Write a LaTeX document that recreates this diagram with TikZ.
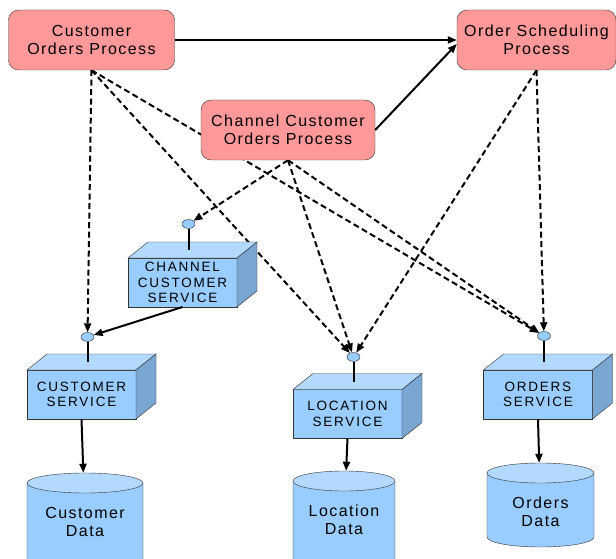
\documentclass[tikz,border=0pt]{standalone}
\usepackage{fontspec}
\setmainfont{Liberation Sans}
\newfontfamily\procfont[LetterSpace=9]{Liberation Sans}
\newfontfamily\svcfont[LetterSpace=13]{Liberation Sans}
\usetikzlibrary{arrows.meta,shapes.geometric,backgrounds}

\definecolor{procpink}{HTML}{FF9999}
\definecolor{svcfront}{HTML}{99CCFF}
\definecolor{svctop}{HTML}{B3D9FF}
\definecolor{svcside}{HTML}{7AA6D2}
\definecolor{edgegray}{HTML}{333333}

\tikzset{
  process/.style={draw=edgegray, fill=procpink, rounded corners=10pt, minimum height=60pt,
    align=center, inner sep=0pt, font=\procfont\fontsize{16}{18.5}\selectfont},
  service/.style={draw=edgegray, fill=svcfront, minimum width=109pt, minimum height=49pt,
    outer sep=0pt, align=center, inner sep=0pt, font=\svcfont\fontsize{13.5}{15.5}\selectfont},
  iface/.style={ellipse, draw=edgegray, fill=svcfront, minimum width=13pt, minimum height=9pt, inner sep=0pt},
  store/.style={minimum height=98pt, align=center, inner sep=0pt, font=\procfont\fontsize{16}{18.5}\selectfont},
  uses/.style={-{Triangle[length=9pt,width=7pt]}, line width=2pt},
  calls/.style={uses, dash pattern=on 6pt off 3.5pt},
}

\begin{document}
\begin{tikzpicture}[x=1pt, y=1pt]
    \useasboundingbox (0,0) rectangle (616,558);

    % Procesos
    \node[process, minimum width=166pt] (cop) at (91.5,518) {Customer\\Orders Process};
    \node[process, minimum width=159pt] (osp) at (536.5,518) {Order Scheduling\\Process};
    \node[process, minimum width=174pt] (ccop) at (288,428) {Channel Customer\\Orders Process};

    % Servicios (cara frontal)
    \node[service] (ccs) at (182.5,275.5) {CHANNEL\\CUSTOMER\\SERVICE};
    \node[service] (cs) at (81.5,163.5) {CUSTOMER\\SERVICE};
    \node[service] (ls) at (347.5,144) {LOCATION\\SERVICE};
    \node[service] (os) at (538,163.5) {ORDERS\\SERVICE};

    % Caras superior y lateral
    \foreach \s in {ccs,cs,ls,os}{
        \filldraw[draw=edgegray, fill=svctop] (\s.north west) -- ++(20,16) -- ++(109,0) -- (\s.north east) -- cycle;
        \filldraw[draw=edgegray, fill=svcside] (\s.north east) -- ++(20,16) -- ++(0,-49) -- (\s.south east) -- cycle;
    }

    % Interfaces
    \node[iface] (ccsi) at (188.5,334) {};
    \node[iface] (csi) at (87.5,221) {};
    \node[iface] (lsi) at (353.5,201) {};
    \node[iface] (osi) at (544,222) {};
    \foreach \i/\s in {ccsi/ccs,csi/cs,lsi/ls,osi/os}
        \draw[line width=2pt] (\i.south) -- ([xshift=6pt,yshift=8pt]\s.north);

    % Datos
    \foreach \n/\cx/\ty/\w/\h/\txt in {cd/85/85/116/100/{Customer\\Data},
                                       ld/344/87/102/100/{Location\\Data},
                                       od/540.5/95/107/84/{Orders\\Data}}{
        \filldraw[draw=edgegray, fill=svcfront] ({\cx-\w/2},{\ty-10}) -- ({\cx-\w/2},{\ty-\h+10})
            arc[start angle=180, end angle=360, x radius=\w/2, y radius=10] -- ({\cx+\w/2},{\ty-10});
        \filldraw[draw=edgegray, fill=svctop] (\cx,\ty-10) ellipse[x radius=\w/2, y radius=10];
        \node[store, minimum width=\w] (\n) at (\cx,\ty-49) {\txt};
    }

    % Llamadas
    \begin{pgfonlayer}{background}
        \draw[calls] (cop.south) -- (csi);
        \draw[calls] (cop.south) -- (lsi);
        \draw[calls] (cop.south) -- (osi);
        \draw[calls] (ccop.south) -- (ccsi);
        \draw[calls] (ccop.south) -- (lsi);
        \draw[calls] (ccop.south) -- (osi);
        \draw[calls] (osp.south) -- (lsi);
        \draw[calls] (osp.south) -- (osi);
    \end{pgfonlayer}

    % Dependencias
    \draw[uses] (cop.east) -- (osp.west);
    \draw[uses] (ccop.east) -- ([yshift=-4pt]osp.west);
    \draw[uses] (ccs.south) -- (csi);
    \draw[uses] (cs.south) -- (cd);
    \draw[uses] (ls.south) -- (ld);
    \draw[uses] (os.south) -- (od);
\end{tikzpicture}
\end{document}
